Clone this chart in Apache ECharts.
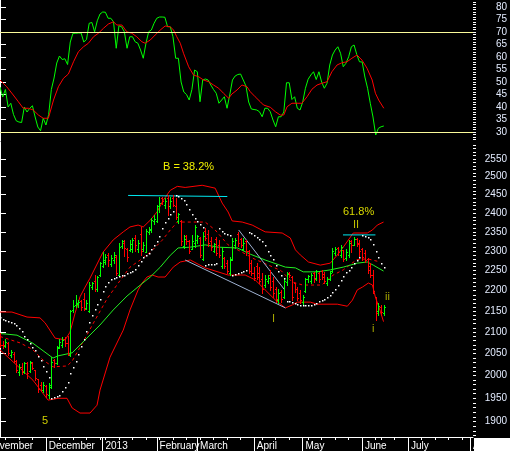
<!DOCTYPE html>
<html><head><meta charset="utf-8">
<script src="https://cdn.jsdelivr.net/npm/echarts@6/dist/echarts.min.js"></script>
<style>html,body{margin:0;padding:0;background:#000;}#chart{width:510px;height:451px;}</style>
</head><body><div id="chart"></div>
<script>
// ---- trading calendar (category axis) ----
const tradingDays = [
  ['2012-11',[8,9,12,13,14,15,16,19,20,21,22,23,26,27,28,29,30]],
  ['2012-12',[3,4,5,6,7,10,11,12,13,14,17,18,19,20,21,24,25,26,27,28,31]],
  ['2013-01',[4,7,8,9,10,11,14,15,16,17,18,21,22,23,24,25,28,29,30,31]],
  ['2013-02',[1,4,5,6,7,8,18,19,20,21,22,25,26,27,28]],
  ['2013-03',[1,4,5,6,7,8,11,12,13,14,15,18,19,20,21,22,25,26,27,28,29]],
  ['2013-04',[1,2,3,8,9,10,11,12,15,16,17,18,19,22,23,24,25,26]],
  ['2013-05',[2,3,6,7,8,9,10,13,14,15,16,17,20,21,22,23,24,27,28,29,30,31]],
  ['2013-06',[3,4,5,6,7,13,14,17,18,19,20,21,24,25,26,27,28]],
  ['2013-07',[1,2,3,4,5,8,9,10,11,12,15,16,17,18,19,22,23,24,25,26,29,30,31]],
  ['2013-08',[1,2]]
];
const monthNames = {'01':'2013','02':'February','03':'March','04':'April','05':'May','06':'June','07':'July','08':'August','11':'November','12':'December'};

// ---- price bars (daily) ----
const opens = [2092,2070,2068,2075,2046,2050,2034,2008,2020,2008,
2028,2010,2028,2012,1993,1980,1968,1978,1958,1975,
2035,2028,2066,2070,2085,2074,2046,2152,2165,2168,
2175,2180,2158,2150,2210,2225,2205,2238,2262,2272,
2290,2268,2276,2285,2240,2312,2322,2305,2303,2305,
2335,2305,2345,2305,2298,2350,2355,2378,2380,2420,
2440,2422,2440,2418,2440,2418,2380,2378,2312,2338,
2325,2305,2320,2328,2335,2280,2352,2345,2325,2300,
2330,2315,2262,2282,2270,2245,2280,2315,2345,2330,
2305,2325,2300,2270,2245,2262,2245,2230,2215,2225,
2240,2225,2205,2178,2198,2185,2222,2245,2235,2219,
2205,2195,2172,2200,2228,2225,2245,2232,2245,2250,
2242,2218,2228,2248,2295,2308,2290,2302,2282,2290,
2325,2316,2332,2320,2305,2295,2280,2262,2240,2185,
2150,2160,2145];
const highs = [2097,2080,2083,2078,2058,2053,2036,2026,2028,2032,
2030,2034,2030,2012,1993,1986,1985,1980,1984,2042,
2038,2068,2083,2088,2088,2090,2153,2177,2189,2178,
2177,2194,2177,2222,2222,2239,2236,2272,2298,2292,
2295,2290,2297,2290,2321,2328,2328,2308,2328,2334,
2342,2328,2363,2323,2358,2363,2387,2395,2422,2444,
2444,2441,2449,2444,2449,2441,2400,2381,2342,2342,
2329,2342,2368,2342,2337,2350,2360,2355,2337,2321,
2337,2329,2310,2285,2277,2285,2334,2334,2350,2334,
2334,2329,2303,2277,2259,2269,2259,2244,2239,2239,
2252,2234,2209,2205,2202,2232,2247,2247,2237,2219,
2209,2202,2189,2232,2239,2244,2247,2252,2247,2252,
2247,2234,2250,2308,2310,2310,2315,2303,2305,2329,
2329,2337,2334,2329,2308,2303,2282,2269,2252,2185,
2170,2165,2165];
const lows = [2066,2062,2066,2048,2042,2030,2008,2002,2004,2006,
1996,2008,2015,1990,1963,1965,1963,1952,1950,1972,
2020,2026,2064,2066,2068,2046,2044,2148,2160,2160,
2153,2153,2155,2148,2205,2200,2200,2236,2259,2268,
2262,2262,2270,2238,2238,2308,2288,2275,2300,2297,
2300,2297,2290,2300,2297,2345,2350,2372,2376,2403,
2425,2415,2395,2413,2420,2385,2374,2316,2308,2318,
2295,2305,2310,2320,2285,2277,2329,2313,2303,2297,
2290,2285,2257,2257,2244,2239,2277,2308,2313,2310,
2303,2290,2244,2240,2226,2230,2219,2195,2210,2219,
2202,2185,2172,2170,2172,2182,2215,2234,2177,2197,
2177,2170,2165,2198,2222,2219,2222,2227,2222,2230,
2220,2214,2226,2247,2290,2290,2285,2275,2277,2285,
2297,2316,2313,2285,2277,2272,2244,2234,2195,2129,
2141,2141,2141];
const closes = [2071,2069,2078,2052,2054,2033,2013,2020,2008,2028,
2005,2030,2018,1994,1970,1968,1980,1960,1980,2031,
2029,2062,2078,2082,2074,2050,2150,2162,2170,2172,
2159,2155,2170,2213,2218,2204,2233,2269,2276,2285,
2276,2283,2290,2243,2311,2325,2309,2284,2317,2328,
2315,2320,2301,2315,2352,2358,2382,2385,2419,2428,
2433,2434,2418,2432,2421,2389,2397,2326,2330,2325,
2300,2325,2362,2338,2290,2340,2335,2320,2310,2318,
2295,2290,2300,2262,2250,2278,2325,2328,2320,2315,
2322,2300,2248,2243,2232,2235,2225,2205,2228,2232,
2210,2195,2180,2195,2180,2225,2242,2238,2184,2205,
2182,2176,2185,2228,2236,2240,2230,2248,2230,2235,
2225,2230,2245,2300,2305,2298,2310,2280,2298,2322,
2315,2330,2318,2300,2285,2278,2252,2240,2200,2145,
2162,2148,2160];

// ---- indicators ----
const rsi = [48,44,47,40,41.5,37,34.5,34,33.8,40,
38,39.5,40.5,36,32,30.5,35.5,32.8,37,47,
51.6,57.6,60.4,59,59.3,57,66,69.5,69.5,69.6,
69.6,66,67,73.5,73.8,70.1,74.5,77.2,78,77.9,
75.5,75.5,74.1,63.5,72.5,72.1,70.1,63.5,68.1,68.1,
66.1,65.5,62.8,59.5,65.5,70.1,70.8,73.5,75.5,76,
76,75.9,72.1,72.1,68.1,59.5,59.5,50,46,45,
42.8,47,54.8,54.1,42.1,50.8,51.2,50.8,48.8,47,
45.5,41.5,42.8,44.1,39.5,44.8,50.8,52.4,53,53.2,
50.8,48.4,42,39.2,39,38.8,38.1,36.1,39.5,39.5,
38.1,34.8,32.1,36.1,36.1,38,49.7,49.7,43,44.1,
39.5,38.8,42,47.5,51.1,52.8,54.1,51,54.1,50,
47.5,49.5,56.8,60.8,62.8,64.1,61.5,56.1,57.5,60.1,
64.1,64.8,61,58.1,58,52,47.5,41.5,36,28.8,
31.5,32.1,32.4];
const rsiAvg = [[0,50.8],[2.5,48.1],[4.9,44.8],[6.8,42.1],[8.6,39.5],[10.5,39.5],[12.3,38.8],[14.2,36.8],[16,35.5],[17.9,35.5],[19.8,42.8],[21.6,48.1],[23.5,51.5],[25.3,53.2],[27.2,58.1],[29,62.1],[30.9,64.1],[32.7,65.5],[34.6,68.1],[36.4,69.5],[38.3,71.5],[40.1,73.2],[42,74.1],[43.2,72.8],[45.1,72.8],[46.9,70.1],[48.8,69.5],[50.6,68.1],[52.5,66.1],[53.7,65.5],[55.6,66.8],[57.4,68.8],[59.3,70.8],[61.1,72.4],[63,72.1],[64.2,70.8],[65.4,68.1],[66.7,65.5],[67.9,61.5],[69.8,56.1],[71.6,52.8],[73.5,52.1],[75.3,50.8],[77.2,50.1],[79,48.8],[80.9,47.5],[82.7,45.5],[84.6,43.5],[85.8,45.2],[87.7,46.8],[89.5,48.8],[91.4,48.1],[92.6,46.1],[94.4,44.1],[96.3,42.1],[97.5,40.8],[100,39.9],[101.9,38.1],[103.7,36.8],[105,36.8],[106.2,40.1],[108,41.5],[109.9,41.5],[111.7,41.5],[113.6,44.1],[115.4,47.1],[117.3,48.8],[119.1,49.5],[121,50.1],[122.8,54.1],[124.7,56.8],[126.5,57.7],[128.4,58.1],[130.2,59.5],[132.1,60.8],[133.9,58.8],[135.8,55.5],[137.7,50.8],[138.9,45.5],[140.1,42.8],[142,39.5]];
const bandUpper = [[0,2148],[4.4,2148],[10,2136],[14.8,2134],[16.7,2122],[20.4,2086],[24.1,2082],[25.9,2100],[27.8,2146],[29.6,2185],[31.5,2209],[33.3,2231],[38.1,2297],[41.9,2329],[45.6,2350],[48.1,2363],[51.1,2368],[53,2363],[55.6,2381],[58.1,2403],[60.4,2435],[63,2462],[65.6,2473],[68.5,2470],[74.8,2476],[79.6,2468],[82.2,2427],[84.4,2403],[85.9,2379],[89.6,2376],[93.3,2368],[98.1,2350],[104.4,2347],[107.4,2334],[109.3,2303],[111.1,2290],[114.1,2272],[118.5,2264],[122.2,2269],[124.8,2290],[127,2310],[130.7,2347],[135.9,2347],[137.8,2355],[139.6,2368],[141.9,2376]];
const bandLower = [[0,2059],[12.2,1990],[17.8,1946],[21.5,1950],[24.8,1950],[26.7,1929],[29.6,1918],[33.3,1918],[35.9,1935],[37,1968],[40.7,2042],[45.6,2105],[48.1,2153],[51.1,2202],[52.6,2219],[54.4,2234],[56.3,2239],[58.5,2234],[61.1,2234],[64.1,2259],[66.7,2272],[70.4,2277],[75.9,2257],[84.4,2239],[90.7,2239],[94.4,2227],[98.1,2202],[101.9,2177],[105.6,2158],[108.1,2165],[110,2172],[114.8,2172],[117.4,2167],[124.8,2167],[128.5,2162],[130.4,2177],[132.2,2202],[134.1,2209],[136.3,2219],[137.8,2214],[138.9,2184],[140.7,2150],[141.9,2125]];
const bandMid = [[0,2090],[7.4,2075],[12,2060],[16,2035],[19.6,2020],[24.8,2022],[26.7,2033],[31.5,2086],[35.2,2129],[39.6,2180],[44.4,2225],[48.1,2259],[51.9,2277],[55.6,2297],[60,2328],[63,2355],[65.6,2376],[68.5,2376],[75.9,2376],[79.6,2355],[84.4,2316],[89.6,2297],[94,2280],[99,2265],[104,2250],[108,2222],[112,2214],[119,2214],[123.3,2239],[127,2252],[132,2278],[136,2280],[140.7,2272]];
const avgLine = [[0,2097],[6.3,2093],[12.2,2074],[19.6,2040],[21.5,2045],[26.7,2052],[30.7,2077],[37,2117],[41.9,2153],[47,2187],[51.9,2214],[55.6,2234],[59.3,2259],[63,2289],[65.9,2308],[70.4,2310],[75.9,2316],[80.7,2310],[87.8,2308],[92.6,2292],[98.1,2277],[105.6,2259],[109.3,2257],[112.2,2247],[117.4,2247],[122.2,2252],[127,2259],[132.2,2269],[135.9,2272],[138.1,2264],[141.9,2249]];
const sar = [2135,2132,2129,2126,2124,2121,2117,2110,2102,2092,
2084,2074,2066,2058,2045,2035,2022,2010,1998,1950,
1952,1955,1958,1965,1975,1986,2005,2020,2033,2050,
2068,2085,2102,2125,2142,2155,2168,2180,2200,2212,
2222,2228,2232,2235,2236,2238,2240,2243,2246,2250,
2255,2265,2275,2285,2290,2296,2305,2316,2326,2340,
2360,2375,2388,2398,2405,2449,2446,2441,2435,2425,
2410,2397,2388,2380,2372,2362,2265,2266,2267,2268,
2270,2360,2352,2348,2345,2342,2240,2242,2244,2246,
2249,2252,2350,2346,2342,2337,2332,2325,2315,2300,
2290,2280,2265,2250,2240,2232,2175,2174,2172,2170,
2168,2166,2165,2165,2165,2166,2167,2170,2174,2177,
2180,2184,2190,2197,2204,2215,2227,2237,2246,2252,
2260,2270,2278,2285,2342,2340,2337,2330,2318,2300,
2285,2270,2258];
const topLine1 = [[47.4,2448],[84.1,2445]];
const topLine2 = [[126.9,2342],[138.9,2342]];
const trendUpper = [[88.3,2355],[105.2,2203]];
const trendLower = [[68.5,2277],[105.6,2158]];

// ---- axis labels ----
const rsiLabels = [30,35,40,45,50,55,60,65,70,75,80];
const priceLabels = [1900,1950,2000,2050,2100,2150,2200,2250,2300,2350,2400,2450,2500,2550];
const rsiLevels = [70,30];

// ---------------------------------------------------------------
const dates = [];
tradingDays.forEach(([m, days]) => days.forEach(d => dates.push(m + '-' + String(d).padStart(2,'0'))));
const N = dates.length;
const isMonthStart = i => i > 0 && dates[i].slice(0,7) !== dates[i-1].slice(0,7);
const weekNo = s => { const [y,m,d] = s.split('-').map(Number); return Math.floor((Date.UTC(y,m-1,d)/86400000 + 3)/7); };
const isWeekStart = i => i > 0 && weekNo(dates[i]) !== weekNo(dates[i-1]);
const rsiMinor = []; for (let v = 27; v <= 82; v++) rsiMinor.push(v);
const priceMinor = []; for (let v = 1870; v <= 2590; v += 10) priceMinor.push(v);

const FONT = '"Liberation Sans",Arial,sans-serif';
const FS = 10;
const RIGHT = 37;
const PRICE_MIN = 1867.2, PRICE_MAX = 2599.1;
const RSI_MIN = 26.4, RSI_MAX = 82.8;

const chart = echarts.init(document.getElementById('chart'), null, {renderer:'canvas', width:510, height:451});

function lineSeries(data, color, opts) {
  return Object.assign({
    type:'line', xAxisIndex:1, yAxisIndex:2, data, showSymbol:false, symbol:'none',
    silent:true, animation:false, lineStyle:{color, width:1}, z:2
  }, opts || {});
}

const option = {
  backgroundColor:'#000',
  animation:false,
  grid:[
    {left:0, right:RIGHT, top:0, height:141, outerBoundsMode:'none', containLabel:false, show:false},
    {left:0, right:RIGHT, top:142, height:295, outerBoundsMode:'none', containLabel:false, show:false}
  ],
  xAxis:[
    {type:'value', gridIndex:0, min:0, max:N-1, show:false},
    {type:'value', gridIndex:1, min:0, max:N-1, show:false},
    {type:'category', gridIndex:1, data:dates, boundaryGap:false, position:'bottom',
     axisLine:{show:true, lineStyle:{color:'#ffffff', width:1}},
     axisTick:{show:true, length:14, interval:(i)=>isMonthStart(i), lineStyle:{color:'#ffffff', width:1}},
     axisLabel:{show:true, interval:(i)=>isMonthStart(i), formatter:(v)=>' ' + monthNames[v.slice(5,7)],
       align:'left', color:'#ffffff', fontSize:FS, fontFamily:FONT, margin:4},
     splitLine:{show:false}},
    {type:'category', gridIndex:1, data:dates, boundaryGap:false, position:'bottom',
     axisLine:{show:false},
     axisTick:{show:true, length:3, interval:(i)=>isWeekStart(i), lineStyle:{color:'#ffffff', width:1}},
     axisLabel:{show:false}, splitLine:{show:false}}
  ],
  yAxis:[
    {type:'value', gridIndex:0, position:'right', min:RSI_MIN, max:RSI_MAX,
     axisLine:{show:true, lineStyle:{color:'#ffffff', width:1}},
     axisTick:{show:true, length:6, customValues:rsiLabels, lineStyle:{color:'#ffffff'}},
     axisLabel:{show:true, customValues:rsiLabels, formatter:(v)=>String(v), align:'right', margin:34,
       color:'#e4ecff', fontSize:FS, fontFamily:FONT},
     splitLine:{show:false}},
    {type:'value', gridIndex:0, position:'right', min:RSI_MIN, max:RSI_MAX,
     axisLine:{show:false}, axisTick:{show:true, length:3, customValues:rsiMinor, lineStyle:{color:'#ffffff'}},
     axisLabel:{show:false}, splitLine:{show:false}},
    {type:'log', logBase:10, gridIndex:1, position:'right', min:PRICE_MIN, max:PRICE_MAX,
     axisLine:{show:true, lineStyle:{color:'#ffffff', width:1}},
     axisTick:{show:true, length:6, customValues:priceLabels, lineStyle:{color:'#ffffff'}},
     axisLabel:{show:true, customValues:priceLabels, formatter:(v)=>String(Math.round(v)), align:'right', margin:34,
       color:'#e4ecff', fontSize:FS, fontFamily:FONT},
     splitLine:{show:false}},
    {type:'log', logBase:10, gridIndex:1, position:'right', min:PRICE_MIN, max:PRICE_MAX,
     axisLine:{show:false}, axisTick:{show:true, length:3, customValues:priceMinor, lineStyle:{color:'#ffffff'}},
     axisLabel:{show:false}, splitLine:{show:false}}
  ],
  series:[
    {type:'line', xAxisIndex:0, yAxisIndex:0, data:rsi.map((v,i)=>[i,v]), showSymbol:false, symbol:'none',
     silent:true, lineStyle:{color:'#00ff00', width:1}, z:3,
     markLine:{silent:true, symbol:['none','none'], label:{show:false}, animation:false,
       lineStyle:{color:'#fafa9a', width:1, type:'solid'}, emphasis:{disabled:true},
       data:rsiLevels.map(v=>({yAxis:v}))}},
    {type:'line', xAxisIndex:0, yAxisIndex:0, data:rsiAvg, showSymbol:false, symbol:'none',
     silent:true, lineStyle:{color:'#ff0000', width:1}, z:4},
    lineSeries(bandUpper, '#ff0000'),
    lineSeries(bandLower, '#ff0000'),
    lineSeries(bandMid, '#ff0000', {lineStyle:{color:'#ff0000', width:1, type:[3,3]}}),
    lineSeries(avgLine, '#22ee22'),
    lineSeries(topLine1, '#00e8f0'),
    lineSeries(topLine2, '#00e8f0'),
    lineSeries(trendUpper, '#9fb2d2'),
    lineSeries(trendLower, '#9fb2d2'),
    {type:'custom', xAxisIndex:1, yAxisIndex:2, silent:true, z:3,
     data:opens.map((o,i)=>[i,o,highs[i],lows[i],closes[i]]),
     encode:{x:0, y:[1,2,3,4]},
     renderItem:function(params, api){
       const i = api.value(0), o = api.value(1), h = api.value(2), l = api.value(3), c = api.value(4);
       const pH = api.coord([i,h]), pL = api.coord([i,l]), pO = api.coord([i,o]), pC = api.coord([i,c]);
       const x = Math.round(pH[0]) + 0.5;
       const col = c >= o ? '#00ff00' : '#ff0000';
       const yo = Math.round(pO[1]) + 0.5, yc = Math.round(pC[1]) + 0.5;
       return {type:'group', children:[
         {type:'line', shape:{x1:x, y1:Math.round(pH[1]), x2:x, y2:Math.round(pL[1])+1}, style:{stroke:col, lineWidth:1}},
         {type:'line', shape:{x1:x-1.5, y1:yo, x2:x, y2:yo}, style:{stroke:col, lineWidth:1}},
         {type:'line', shape:{x1:x, y1:yc, x2:x+1.5, y2:yc}, style:{stroke:col, lineWidth:1}}
       ]};
     }},
    {type:'custom', xAxisIndex:1, yAxisIndex:2, silent:true, z:5,
     data:sar.map((v,i)=>[i,v]), encode:{x:0, y:1},
     renderItem:function(params, api){
       const p = api.coord([api.value(0), api.value(1)]);
       return {type:'rect', shape:{x:Math.round(p[0]), y:Math.round(p[1]), width:1.5, height:1.5}, style:{fill:'#ffffff'}};
     }}
  ],
  graphic:[
    {type:'text', x:-13, y:446, z:50, style:{text:'November', fill:'#ffffff', font:FS + 'px ' + FONT, verticalAlign:'middle', align:'left'}},
    {type:'text', x:163, y:167, z:50, style:{text:'B = 38.2%', fill:'#f0f000', font:'11px ' + FONT, verticalAlign:'middle', align:'left'}},
    {type:'text', x:343, y:212, z:50, style:{text:'61.8%', fill:'#d8d800', font:'11px ' + FONT, verticalAlign:'middle', align:'left'}},
    {type:'text', x:353, y:225, z:50, style:{text:'II', fill:'#c0c000', font:'11px ' + FONT, verticalAlign:'middle', align:'left'}},
    {type:'text', x:385, y:297, z:50, style:{text:'ii', fill:'#a8a800', font:'11px ' + FONT, verticalAlign:'middle', align:'left'}},
    {type:'text', x:372, y:329, z:50, style:{text:'i', fill:'#a8a800', font:'11px ' + FONT, verticalAlign:'middle', align:'left'}},
    {type:'text', x:272, y:319, z:50, style:{text:'I', fill:'#a8a800', font:'11px ' + FONT, verticalAlign:'middle', align:'left'}},
    {type:'text', x:42, y:421, z:50, style:{text:'5', fill:'#d0d000', font:'11px ' + FONT, verticalAlign:'middle', align:'left'}},
    {type:'rect', z:60, shape:{x:474, y:438, width:36, height:13}, style:{fill:'#ffffff'}}
  ]
};
chart.setOption(option);
</script>
</body></html>
